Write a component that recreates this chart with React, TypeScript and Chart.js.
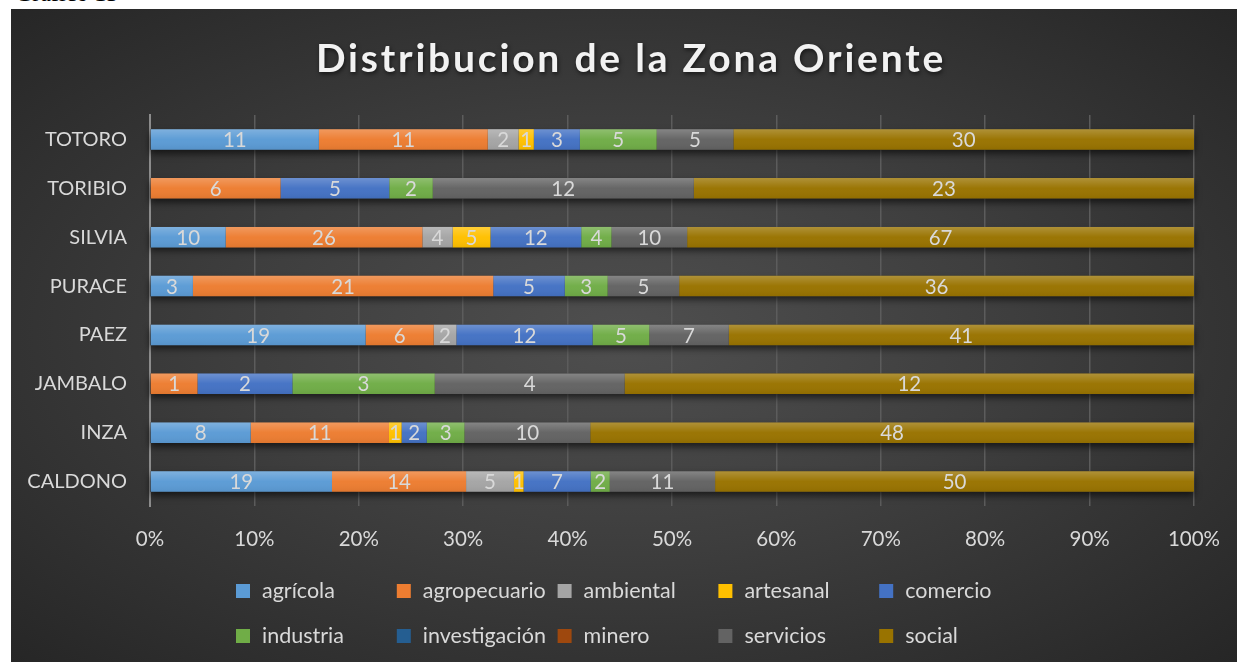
import React, { useEffect, useRef } from "react";
import { Chart, registerables } from "chart.js";

Chart.register(...registerables);

const categories = ["TOTORO", "TORIBIO", "SILVIA", "PURACE", "PAEZ", "JAMBALO", "INZA", "CALDONO"];
const seriesNames = ["agrícola", "agropecuario", "ambiental", "artesanal", "comercio", "industria", "investigación", "minero", "servicios", "social"];
const seriesColors = ["#5B9BD5", "#ED7D31", "#A5A5A5", "#FFC000", "#4472C4", "#70AD47", "#255E91", "#9E480E", "#636363", "#997300"];

const agricola = [11, 0, 10, 3, 19, 0, 8, 19];
const agropecuario = [11, 6, 26, 21, 6, 1, 11, 14];
const ambiental = [2, 0, 4, 0, 2, 0, 0, 5];
const artesanal = [1, 0, 5, 0, 0, 0, 1, 1];
const comercio = [3, 5, 12, 5, 12, 2, 2, 7];
const industria = [5, 2, 4, 3, 5, 3, 3, 2];
const investigacion = [0, 0, 0, 0, 0, 0, 0, 0];
const minero = [0, 0, 0, 0, 0, 0, 0, 0];
const servicios = [5, 12, 10, 5, 7, 4, 10, 11];
const social = [30, 23, 67, 36, 41, 12, 48, 50];

const xTickLabels = ["0%", "10%", "20%", "30%", "40%", "50%", "60%", "70%", "80%", "90%", "100%"];
const titleText = "Distribucion de la Zona Oriente";

const seriesValues = [agricola, agropecuario, ambiental, artesanal, comercio, industria, investigacion, minero, servicios, social];

const FONT = "Lato, 'Open Sans', sans-serif";
const TEXT_COLOR = "#d9d9d9";

export default function App() {
  const canvasRef = useRef<HTMLCanvasElement | null>(null);

  useEffect(() => {
    const canvas = canvasRef.current;
    if (!canvas) return;

    const totals = categories.map((_, j) => seriesValues.reduce((s, arr) => s + arr[j], 0));

    const datasets = seriesNames.map((name, i) => ({
      label: name,
      data: seriesValues[i].map((v, j) => (v / totals[j]) * 100),
      backgroundColor: seriesColors[i],
      borderWidth: 0,
      barPercentage: 0.42,
      categoryPercentage: 1,
    }));

    const titlePlugin = {
      id: "customTitle",
      afterDraw(chart: any) {
        const ctx = chart.ctx;
        ctx.save();
        ctx.font = `bold 39px ${FONT}`;
        (ctx as any).letterSpacing = "2.8px";
        ctx.textAlign = "center";
        ctx.textBaseline = "alphabetic";
        ctx.shadowColor = "rgba(0,0,0,0.6)";
        ctx.shadowBlur = 4;
        ctx.shadowOffsetX = 1;
        ctx.shadowOffsetY = 2;
        ctx.fillStyle = "#f2f2f2";
        ctx.fillText(titleText, 620, 63);
        ctx.restore();
      },
    };

    const barFx = {
      id: "barFx",
      beforeDatasetsDraw(chart: any) {
        const ctx = chart.ctx;
        const xs = chart.scales.x;
        const meta0 = chart.getDatasetMeta(0);
        const x0 = xs.getPixelForValue(0);
        const x1 = xs.getPixelForValue(100);
        ctx.save();
        meta0.data.forEach((el: any) => {
          const h = el.height;
          ctx.shadowColor = "rgba(0,0,0,0.6)";
          ctx.shadowBlur = 7;
          ctx.shadowOffsetY = 4;
          ctx.fillStyle = "#333333";
          ctx.fillRect(x0, el.y - h / 2, x1 - x0, h);
        });
        ctx.restore();
      },
      afterDatasetsDraw(chart: any) {
        const ctx = chart.ctx;
        const xs = chart.scales.x;
        const meta0 = chart.getDatasetMeta(0);
        const x0 = xs.getPixelForValue(0);
        const x1 = xs.getPixelForValue(100);
        ctx.save();
        meta0.data.forEach((el: any) => {
          const h = el.height;
          const top = el.y - h / 2;
          const g = ctx.createLinearGradient(0, top, 0, top + h);
          g.addColorStop(0, "rgba(255,255,255,0.22)");
          g.addColorStop(0.5, "rgba(255,255,255,0.02)");
          g.addColorStop(1, "rgba(0,0,0,0.06)");
          ctx.fillStyle = g;
          ctx.fillRect(x0, top, x1 - x0, h);
        });
        ctx.font = `20.5px ${FONT}`;
        ctx.textAlign = "center";
        ctx.textBaseline = "middle";
        ctx.fillStyle = TEXT_COLOR;
        chart.data.datasets.forEach((_: any, i: number) => {
          const meta = chart.getDatasetMeta(i);
          meta.data.forEach((el: any, j: number) => {
            const v = seriesValues[i][j];
            if (!v) return;
            ctx.fillText(String(v), (el.x + el.base) / 2, el.y + 1);
          });
        });
        ctx.restore();
      },
    };

    const legendPlugin = {
      id: "customLegend",
      afterDraw(chart: any) {
        const ctx = chart.ctx;
        ctx.save();
        ctx.font = `21.5px ${FONT}`;
        ctx.textAlign = "left";
        ctx.textBaseline = "middle";
        chart.data.datasets.forEach((ds: any, i: number) => {
          const row = Math.floor(i / 5);
          const col = i % 5;
          const bx = 225 + col * 160.8;
          const cy = 582 + row * 45;
          ctx.fillStyle = ds.backgroundColor;
          ctx.fillRect(bx, cy - 7, 14, 14);
          ctx.fillStyle = TEXT_COLOR;
          ctx.fillText(ds.label, bx + 26, cy);
        });
        ctx.restore();
      },
    };

    const chart = new Chart(canvas, {
      type: "bar",
      data: { labels: categories, datasets },
      options: {
        indexAxis: "y",
        responsive: false,
        animation: false,
        layout: { padding: { left: 0, right: 43, top: 106, bottom: 0 } },
        plugins: {
          legend: { display: false },
          title: { display: false },
          tooltip: { enabled: false },
        },
        scales: {
          x: {
            stacked: true,
            min: 0,
            max: 100,
            afterFit: (axis: any) => {
              axis.height = 156;
            },
            ticks: {
              stepSize: 10,
              padding: 0,
              color: TEXT_COLOR,
              font: { family: FONT, size: 20.5 },
              callback: (_v: any, i: number) => xTickLabels[i],
            },
            grid: { color: "#5c5c5c", lineWidth: 1.5, drawTicks: true, tickLength: 21, tickColor: "rgba(0,0,0,0)" },
            border: { display: false },
          },
          y: {
            stacked: true,
            afterFit: (axis: any) => {
              axis.width = 139;
            },
            ticks: {
              padding: 23,
              color: TEXT_COLOR,
              font: { family: FONT, size: 20 },
            },
            grid: { display: false, drawTicks: false },
            border: { display: true, color: "#8c8c8c", width: 2 },
          },
        },
      },
      plugins: [barFx, legendPlugin, titlePlugin],
    } as any);

    return () => chart.destroy();
  }, []);

  return (
    <div>
      <div
        style={{
          position: "absolute",
          left: 15,
          top: -19,
          fontFamily: "'Liberation Serif', 'Times New Roman', serif",
          fontSize: 24,
          lineHeight: "24px",
          color: "#000",
        }}
      >
        Gráfico 13
      </div>
      <div
        style={{
          position: "absolute",
          left: 11,
          top: 9,
          width: 1226,
          height: 653,
          background: "radial-gradient(ellipse farthest-corner at 50% 50%, #4f4f4f 0%, #3e3e3e 45%, #262626 100%)",
          overflow: "hidden",
        }}
      >
        <canvas ref={canvasRef} width={1226} height={653} style={{ display: "block", width: 1226, height: 653 }} />
      </div>
    </div>
  );
}
